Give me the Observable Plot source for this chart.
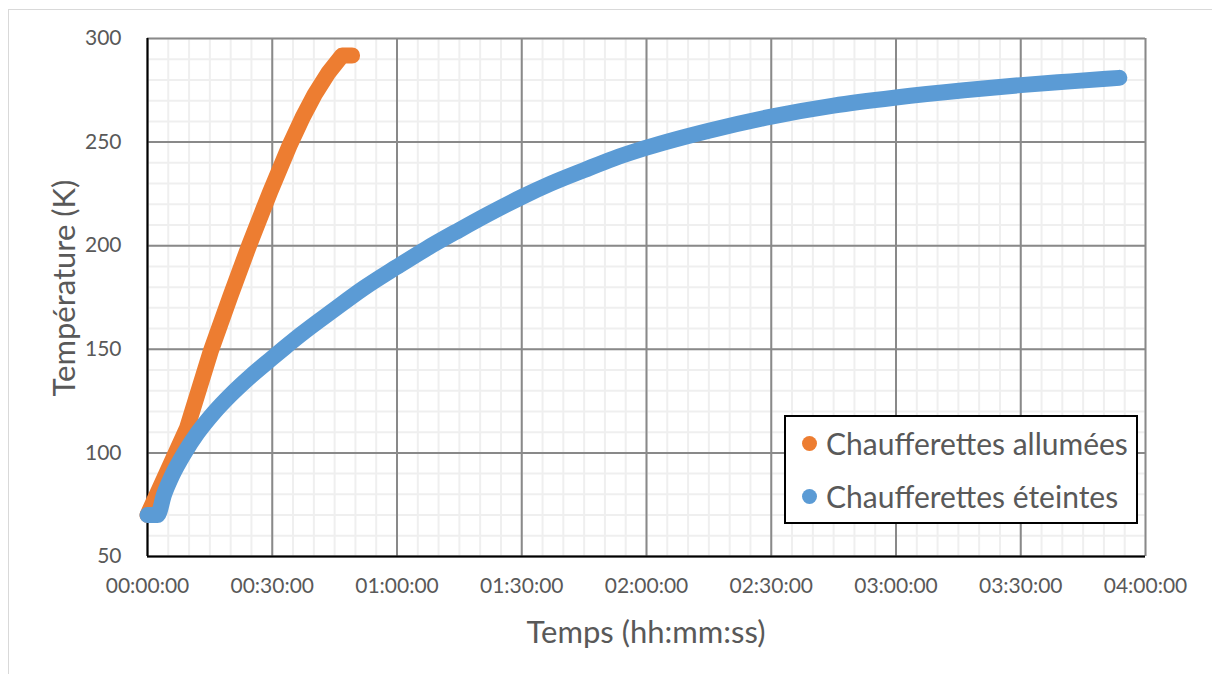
<!DOCTYPE html>
<html>
<head>
<meta charset="utf-8">
<script src="https://cdn.jsdelivr.net/npm/d3@7"></script>
<script src="https://cdn.jsdelivr.net/npm/@observablehq/plot@0.6"></script>
<style>
  html, body { margin: 0; padding: 0; background: #fff; }
  #wrap { position: relative; width: 1212px; height: 674px; overflow: hidden; font-family: Lato, "Open Sans", sans-serif; color: #595959; }
  #frame { position: absolute; left: 8px; top: 9px; width: 1220px; height: 700px; border: 1px solid #d9d9d9; box-sizing: border-box; pointer-events: none; }
  .title { position: absolute; font-size: 31px; color: #595959; white-space: nowrap; line-height: 1; }
  #legend { position: absolute; left: 784px; top: 415px; width: 354px; height: 109px; border: 2px solid #000; box-sizing: border-box; background: #fff; }
  .item { position: absolute; left: 16px; font-size: 30px; line-height: 36px; height: 36px; color: #595959; white-space: nowrap; display: flex; align-items: center; }
  .sw { width: 15px; height: 15px; border-radius: 50%; display: inline-block; margin-right: 9px; }
</style>
</head>
<body>
<div id="wrap">
  <div id="frame"></div>
  <div id="chart"></div>
  <div class="title" id="ytitle" style="left:63px; top:288px; transform: translate(-50%,-50%) rotate(-90deg);">Température (K)</div>
  <div class="title" id="xtitle" style="left:646px; top:631px; transform: translate(-50%,-50%);">Temps (hh:mm:ss)</div>
  <div id="legend"></div>
</div>
<script>
// Series: time in minutes, temperature in K
const seriesNames = ["Chaufferettes allumées", "Chaufferettes éteintes"];
const seriesColors = ["#ED7D31", "#5B9BD5"];

const onTime = [0, 9.5, 15.2, 20, 24.5, 29.5, 34.2, 37.2, 40.2, 43.5, 46.8, 49.2];
const onTemp = [70, 112, 149, 176, 200.5, 226, 248.5, 261.5, 273, 283.5, 291.8, 291.8];

const offTime = [0, 2.4, 4, 5.9, 8.9, 12, 16, 20, 24.8, 29.8, 33.1, 36.8, 44.8, 52, 60, 67, 74.9, 82, 90, 97, 105, 112, 120, 135, 150, 165, 180, 196.4, 210, 222, 233.7];
const offTemp = [70, 70, 80, 89, 100, 109.5, 119.5, 128, 137, 145.5, 151, 157, 169, 179.5, 189.8, 198.5, 207.5, 215.3, 223.5, 230, 236.5, 242, 247.3, 255.5, 262.3, 267.6, 271.5, 275, 277.5, 279.3, 281];

const xMajorTicks = [0, 30, 60, 90, 120, 150, 180, 210, 240];
const yMajorTicks = [50, 100, 150, 200, 250, 300];

const onData = onTime.map((t, i) => ({t, T: onTemp[i]}));
const offData = offTime.map((t, i) => ({t, T: offTemp[i]}));
const xMinor = d3.range(0, 241, 5);
const yMinor = d3.range(50, 301, 10);

const fmt = m => String(Math.floor(m / 60)).padStart(2, "0") + ":" + String(m % 60).padStart(2, "0") + ":00";

const chart = Plot.plot({
  width: 1212,
  height: 674,
  marginLeft: 147,
  marginRight: 67,
  marginTop: 38,
  marginBottom: 118,
  style: {fontFamily: "Lato, 'Open Sans', sans-serif", fontSize: "21px", color: "#595959", background: "transparent"},
  x: {domain: [0, 240]},
  y: {domain: [50, 300]},
  marks: [
    Plot.ruleX(xMinor, {stroke: "#efefef", strokeWidth: 2}),
    Plot.ruleY(yMinor, {stroke: "#efefef", strokeWidth: 2}),
    Plot.ruleX(xMajorTicks, {stroke: "#898989", strokeWidth: 2}),
    Plot.ruleY(yMajorTicks, {stroke: "#898989", strokeWidth: 2}),
    Plot.ruleX([0], {stroke: "#000", strokeWidth: 2}),
    Plot.ruleY([50], {stroke: "#000", strokeWidth: 2}),
    Plot.axisX({ticks: xMajorTicks, tickFormat: fmt, tickSize: 0, tickPadding: 22, label: null, fill: "#595959", fontSize: 21}),
    Plot.axisY({ticks: yMajorTicks, tickSize: 0, tickPadding: 26, label: null, fill: "#595959", fontSize: 21}),
    Plot.line(onData, {x: "t", y: "T", stroke: seriesColors[0], strokeWidth: 16, strokeLinecap: "round", strokeLinejoin: "round", curve: "linear"}),
    Plot.line(offData, {x: "t", y: "T", stroke: seriesColors[1], strokeWidth: 16, strokeLinecap: "round", strokeLinejoin: "round", curve: "monotone-x"})
  ]
});
document.getElementById("chart").appendChild(chart);

const legend = document.getElementById("legend");
seriesNames.forEach((name, i) => {
  const div = document.createElement("div");
  div.className = "item";
  div.style.top = (i === 0 ? 8 : 61) + "px";
  div.innerHTML = `<span class="sw" style="background:${seriesColors[i]}"></span><span>${name}</span>`;
  legend.appendChild(div);
});
</script>
</body>
</html>
